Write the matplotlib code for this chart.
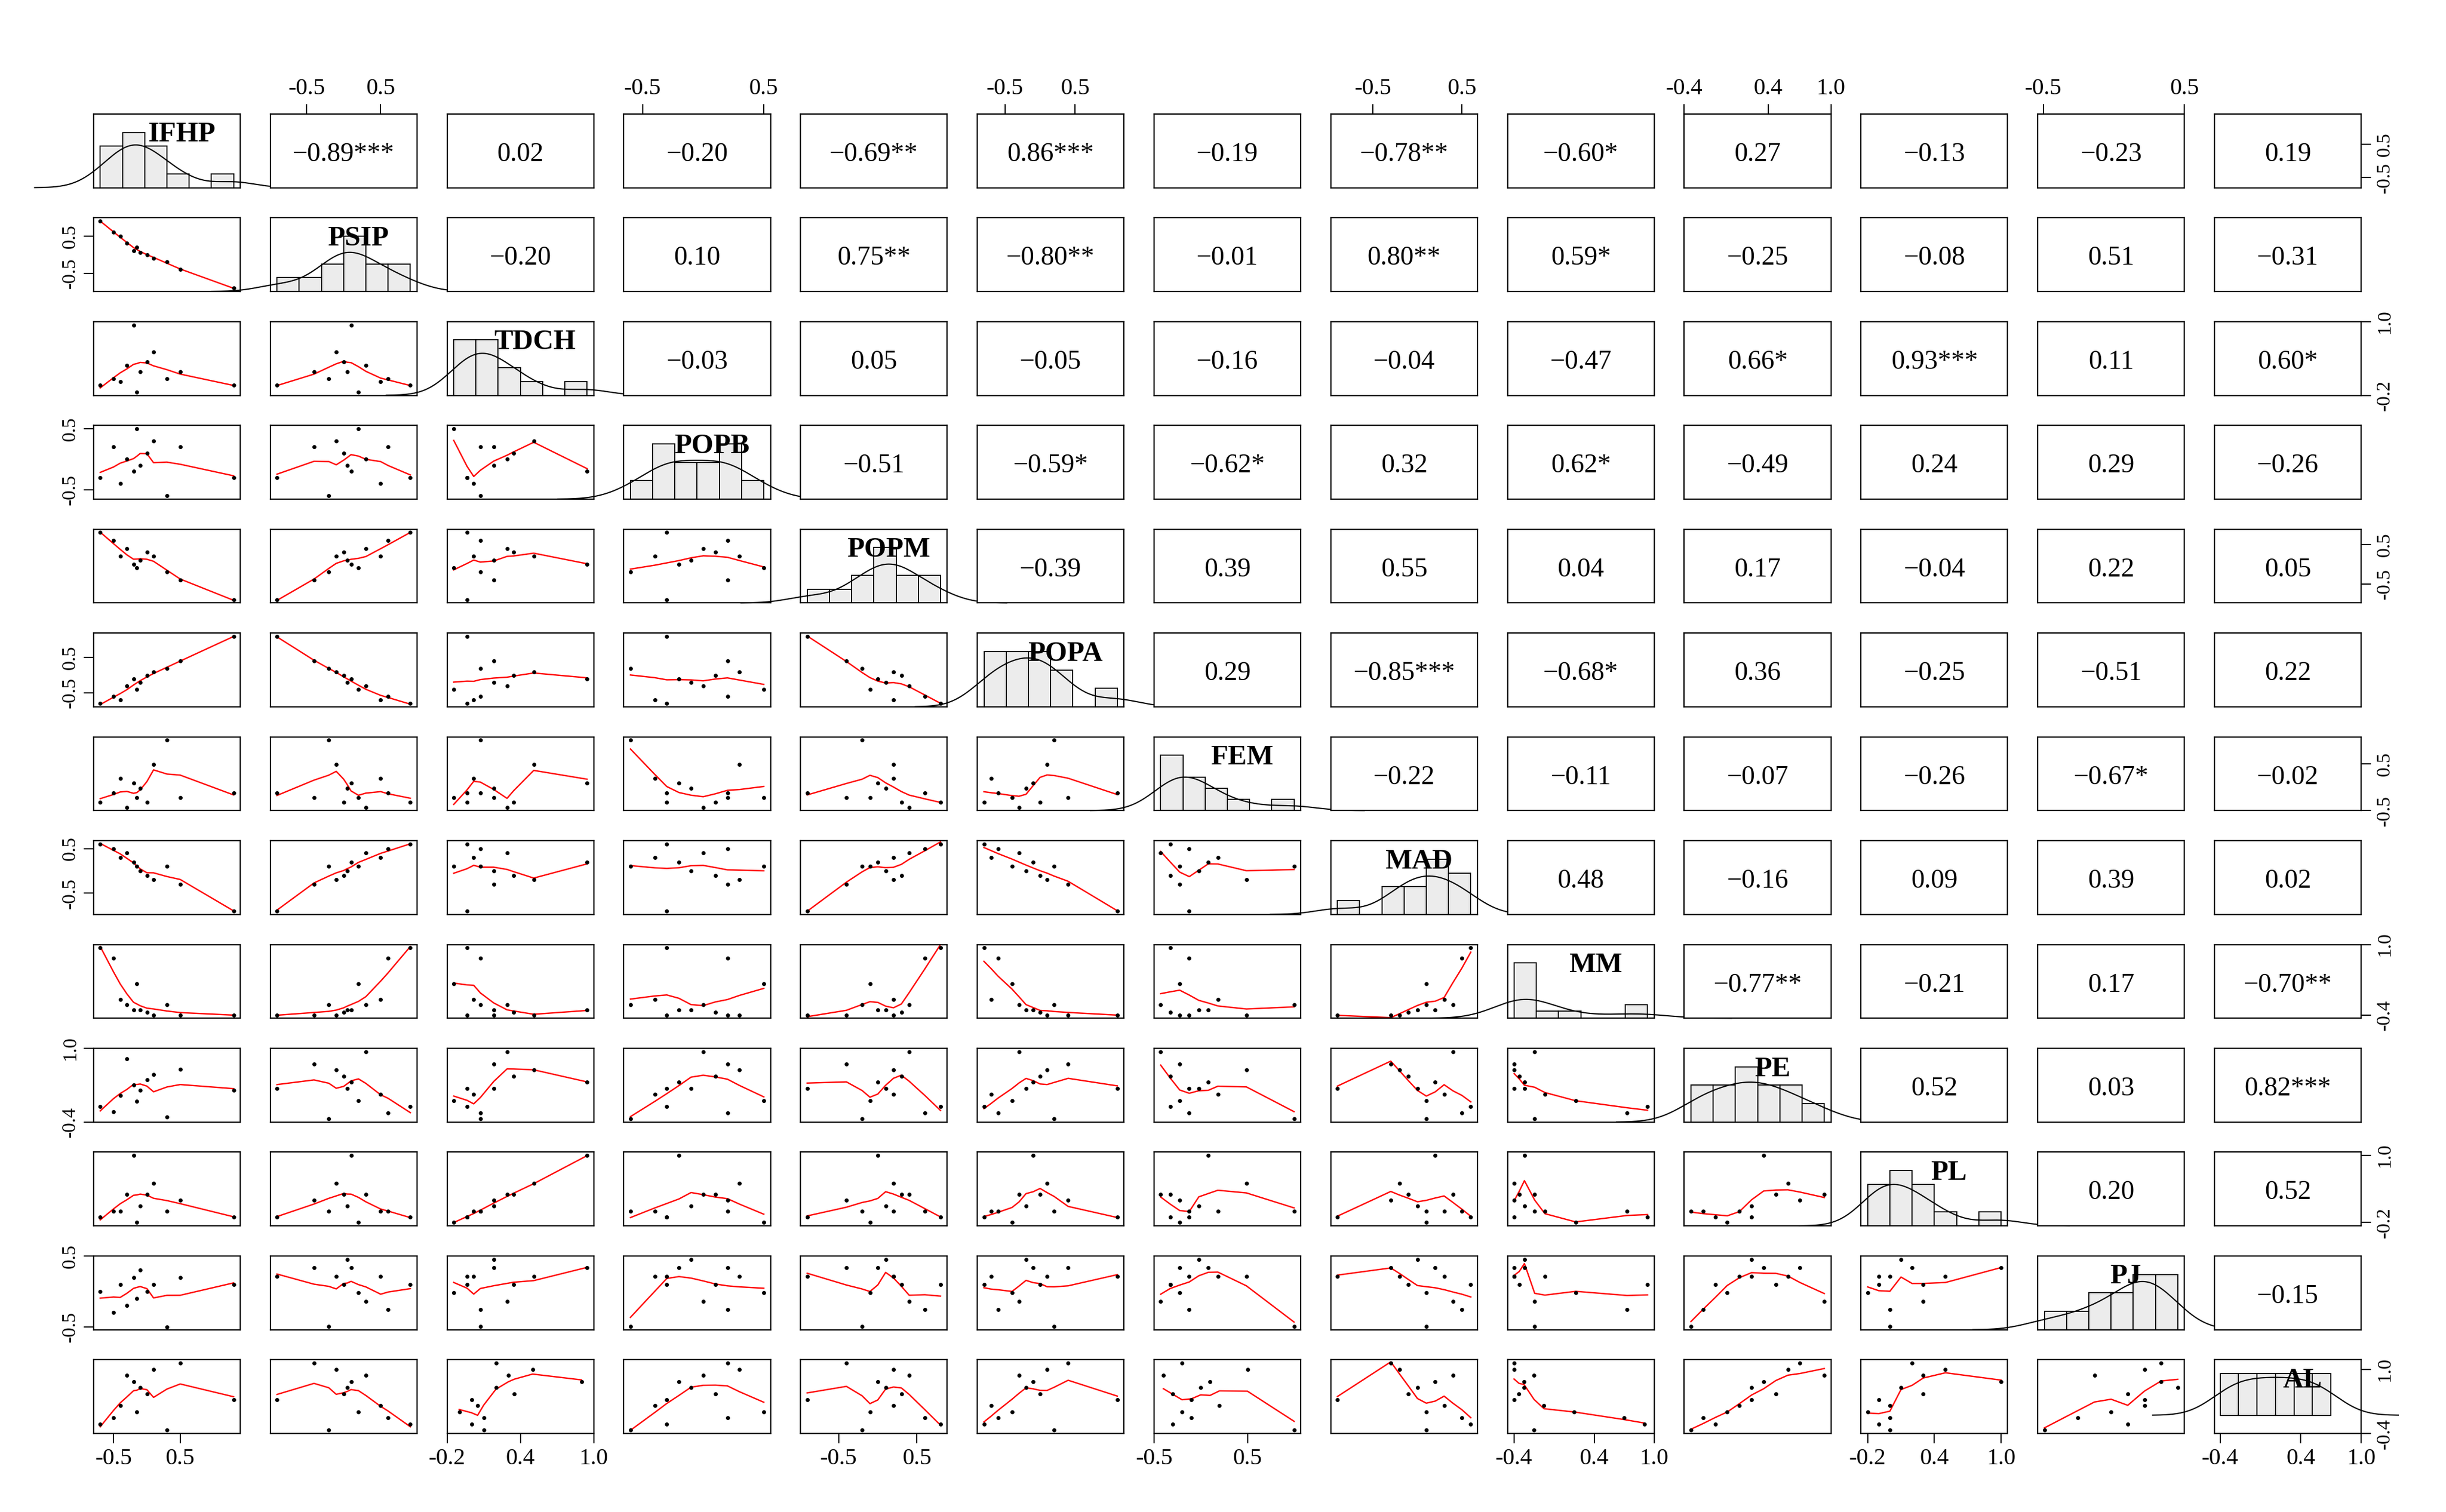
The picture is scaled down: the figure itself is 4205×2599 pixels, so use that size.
import numpy as np
import matplotlib
matplotlib.use("Agg")
import matplotlib.pyplot as plt

plt.rcParams['font.family'] = ['Liberation Serif', 'DejaVu Serif']

names = ["IFHP","PSIP","TDCH","POPB","POPM","POPA","FEM","MAD","MM","PE","PL","PJ","AL"]
IFHP = [-0.7,-0.5,-0.4,-0.3,-0.2,-0.15,-0.1,0.0,0.1,0.3,0.5,1.3]
PSIP = [0.9,0.6,0.5,0.3,0.1,0.2,0.05,0.0,-0.1,-0.2,-0.4,-0.9]
TDCH = [0.0,0.1,0.05,0.3,0.9,-0.1,0.2,0.35,0.5,0.1,0.2,0.0]
POPB = [-0.3,0.2,-0.4,0.0,-0.2,0.5,-0.1,0.1,0.3,-0.6,0.2,-0.3]
POPM = [0.8,0.6,0.2,0.4,0.0,-0.1,0.1,0.3,0.2,-0.2,-0.4,-0.9]
POPA = [-0.8,-0.6,-0.7,-0.3,-0.1,-0.4,-0.2,0.0,0.1,0.2,0.4,1.1]
FEM = [-0.3,-0.1,0.2,-0.4,0.1,-0.2,0.0,-0.3,0.5,1.0,-0.2,-0.1]
MAD = [0.6,0.5,0.3,0.4,0.2,0.1,0.0,-0.1,-0.2,0.1,-0.3,-0.9]
MM = [0.9,0.7,-0.1,-0.2,-0.3,0.2,-0.3,-0.35,-0.4,-0.2,-0.4,-0.4]
PE = [-0.1,-0.2,0.1,0.8,0.3,0.0,0.2,0.4,0.5,-0.3,0.6,0.2]
PL = [-0.1,0.0,0.0,0.3,1.0,-0.2,0.1,0.3,0.5,0.0,0.2,-0.1]
PJ = [0.0,-0.3,0.1,-0.2,0.2,-0.1,0.3,0.0,0.1,-0.5,0.2,0.1]
AL = [-0.3,-0.2,0.0,0.5,0.4,-0.1,0.3,0.2,0.6,-0.4,0.7,0.1]
data = [np.array(v) for v in [IFHP,PSIP,TDCH,POPB,POPM,POPA,FEM,MAD,MM,PE,PL,PJ,AL]]

corr_rows = [
 ["-0.89***","0.02","-0.20","-0.69**","0.86***","-0.19","-0.78**","-0.60*","0.27","-0.13","-0.23","0.19"],
 ["-0.20","0.10","0.75**","-0.80**","-0.01","0.80**","0.59*","-0.25","-0.08","0.51","-0.31"],
 ["-0.03","0.05","-0.05","-0.16","-0.04","-0.47","0.66*","0.93***","0.11","0.60*"],
 ["-0.51","-0.59*","-0.62*","0.32","0.62*","-0.49","0.24","0.29","-0.26"],
 ["-0.39","0.39","0.55","0.04","0.17","-0.04","0.22","0.05"],
 ["0.29","-0.85***","-0.68*","0.36","-0.25","-0.51","0.22"],
 ["-0.22","-0.11","-0.07","-0.26","-0.67*","-0.02"],
 ["0.48","-0.16","0.09","0.39","0.02"],
 ["-0.77**","-0.21","0.17","-0.70**"],
 ["0.52","0.03","0.82***"],
 ["0.20","0.52"],
 ["-0.15"],
]
ticks_a = ([-0.5,0.5],["-0.5","0.5"])
ticks_b = ([-0.4,0.4,1.0],["-0.4","0.4","1.0"])
ticks_c = ([-0.2,0.4,1.0],["-0.2","0.4","1.0"])
col_ticks = [ticks_a,ticks_a,ticks_c,ticks_a,ticks_a,ticks_a,ticks_a,ticks_a,ticks_b,ticks_b,ticks_c,ticks_a,ticks_b]

def lowess(x, y, frac=2/3):
    o = np.argsort(x); x = x[o]; y = y[o]
    n = len(x); k = int(np.ceil(frac*n))
    out = np.zeros(n)
    for i in range(n):
        d = np.abs(x - x[i]); h = np.sort(d)[k-1] + 1e-9
        w = np.clip(1-(d/h)**3, 0, None)**3
        W = w.sum(); mx = (w*x).sum()/W; my = (w*y).sum()/W
        b = (w*(x-mx)*(y-my)).sum()/max((w*(x-mx)**2).sum(),1e-12)
        out[i] = my + b*(x[i]-mx)
    return x, out

def rng(v):
    return (v.min()-0.05*np.ptp(v), v.max()+0.05*np.ptp(v))

n = len(names)
W, H = 4205, 2599
fig = plt.figure(figsize=(W/100, H/100), dpi=100)
x0, x1 = 135/W, 4085/W
y0, y1 = 1-2490/H, 1-170/H
cw = (x1-x0)/n; ch = (y1-y0)/n
gx = 0.17; gy = 0.29

for i in range(n):
    for j in range(n):
        ax = fig.add_axes([x0+j*cw + cw*gx/2, y1-(i+1)*ch + ch*gy/2, cw*(1-gx), ch*(1-gy)])
        for s in ax.spines.values(): s.set_linewidth(1.6)
        xd = data[j]; yd = data[i]
        ax.set_xticks([]); ax.set_yticks([])
        ax.set_xlim(*rng(xd))
        if i > j:
            ax.scatter(xd, yd, s=16, c='black', zorder=3)
            lx, ly = lowess(xd, yd)
            ax.plot(lx, ly, color='red', lw=1.7)
            ax.set_ylim(*rng(yd))
        elif i < j:
            ax.text(0.5, 0.45, corr_rows[i][j-i-1].replace("-", "\u2212"), ha='center', va='center',
                    fontsize=33, transform=ax.transAxes)
            ax.set_ylim(*rng(yd))
        else:
            edges = np.linspace(xd.min(), xd.max(), 7)
            cnt, _ = np.histogram(xd, bins=edges, density=True)
            ax.bar(edges[:-1], cnt, width=np.diff(edges), align='edge', color='#ececec', edgecolor='black', lw=1.3)
            bw = 1.06*xd.std()*len(xd)**(-0.2)
            gxs = np.linspace(xd.min()-3*bw, xd.max()+3*bw, 300)
            dens = np.exp(-0.5*((gxs[:,None]-xd[None,:])/bw)**2).sum(1)/(len(xd)*bw*np.sqrt(2*np.pi))
            ax.plot(gxs, dens, color='black', lw=1.5, clip_on=False)
            ax.set_ylim(0, max(cnt.max(), dens.max())/0.75)
            ax.text(0.6, 0.72, names[i], ha='center', va='center', fontsize=35, fontweight='bold',
                    transform=ax.transAxes, zorder=5)
        ax.tick_params(labelsize=29, length=12, width=1.5, pad=6)
        tp, tl = col_ticks[j]
        if i == n-1 and j % 2 == 0:
            ax.set_xticks(tp); ax.set_xticklabels(tl)
        if i == 0 and j % 2 == 1:
            ax.xaxis.tick_top(); ax.set_xticks(tp); ax.set_xticklabels(tl)
        rp, rl = col_ticks[i]
        if len(rp) > 2:
            rp, rl = [rp[0], rp[-1]], [rl[0], rl[-1]]
        if j == 0 and i % 2 == 1:
            ax.set_yticks(rp); ax.set_yticklabels(rl, rotation=90, va='center')
            ax.tick_params(axis='y', labelsize=24)
        if j == n-1 and i % 2 == 0:
            ax.yaxis.tick_right(); ax.set_yticks(rp); ax.set_yticklabels(rl, rotation=90, va='center')
            ax.tick_params(axis='y', labelsize=24)

fig.savefig("out.png", dpi=100, facecolor='white')
